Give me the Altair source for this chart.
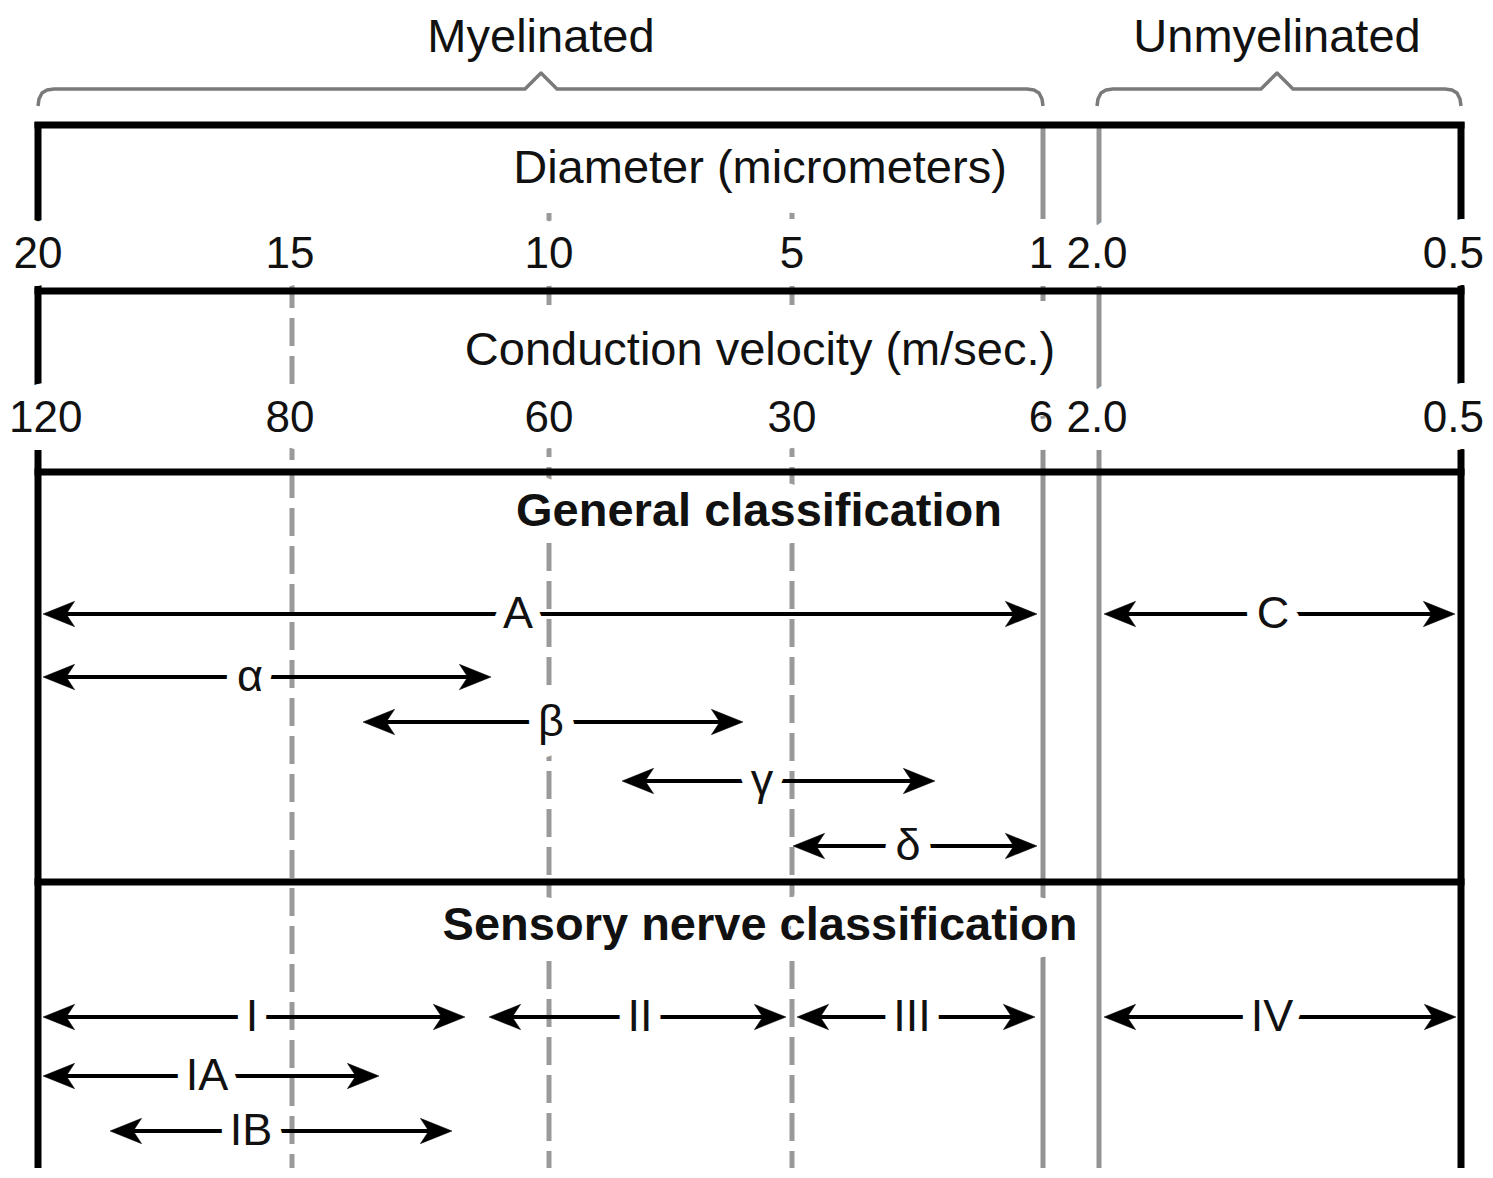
import altair as alt
import pandas as pd

# ---------------------------------------------------------------
# Diagram units
# ---------------------------------------------------------------
X_DOMAIN = [8, 1485]
Y_DOMAIN = [8, 1168]
W, H = 1477, 1160

groups = ["Myelinated", "Unmyelinated"]
group_start = [38, 1097]
group_end = [1043, 1461]
group_mid = [541, 1277]

tick_pos = [38, 290, 549, 792, 1041, 1097, 1461]
diam_labels = ["20", "15", "10", "5", "1", "2.0", "0.5"]
vel_labels = ["120", "80", "60", "30", "6", "2.0", "0.5"]

titles = ["Diameter (micrometers)", "Conduction velocity (m/sec.)",
          "General classification", "Sensory nerve classification"]
title_bold = [False, False, True, True]
title_x = [760, 760, 759, 760]
title_y = [183, 365, 526, 940]

section_edges = [125, 291, 472, 882]
frame_cols = [38, 1461]
frame_top, frame_bottom = 122, 1178

gen_labels = ["A", "C", "α", "β", "γ", "δ"]
gen_start = [43, 1104, 43, 363, 622, 793]
gen_end = [1037, 1455, 491, 743, 935, 1037]
gen_label_x = [518, 1273, 250, 551, 762, 908]
gen_y = [614, 614, 677, 722, 781, 846]

sens_labels = ["I", "II", "III", "IV", "IA", "IB"]
sens_start = [43, 489, 797, 1104, 43, 110]
sens_end = [465, 786, 1035, 1456, 379, 452]
sens_label_x = [252, 640, 912, 1272, 207, 251]
sens_y = [1017, 1017, 1017, 1017, 1076, 1131]

dashed_x = [292, 549, 792]
dashed_top = [280, 125, 125]
solid_x = [1043, 1099]

# ---------------------------------------------------------------
FONT = "Liberation Sans, Arial, sans-serif"
FS = 47          # titles
FS_TICK = 44     # tick numbers
FS_LAB = 45      # arrow labels
TXT = "#111111"

xs = alt.Scale(domain=X_DOMAIN, nice=False, zero=False)
ys = alt.Scale(domain=Y_DOMAIN, nice=False, zero=False, reverse=True)


def X(f):
    return alt.X(f, type="quantitative", scale=xs, axis=None)


def Y(f):
    return alt.Y(f, type="quantitative", scale=ys, axis=None)


# guide lines
dashed_df = pd.DataFrame({"x": dashed_x, "y": dashed_top, "y2": [frame_bottom] * len(dashed_x)})
solid_df = pd.DataFrame({"x": solid_x, "y": [frame_top] * len(solid_x), "y2": [frame_bottom] * len(solid_x)})
hframe_df = pd.DataFrame({"y": section_edges, "x": [frame_cols[0]] * 4, "x2": [frame_cols[1]] * 4})
vframe_df = pd.DataFrame({"x": frame_cols, "y": [frame_top] * 2, "y2": [frame_bottom] * 2})

dashed = alt.Chart(dashed_df).mark_rule(color="#9a9a9a", strokeWidth=5, strokeDash=[28, 10]).encode(
    x=X("x"), y=Y("y"), y2="y2")
solid = alt.Chart(solid_df).mark_rule(color="#939393", strokeWidth=5).encode(
    x=X("x"), y=Y("y"), y2="y2")
hframe = alt.Chart(hframe_df).mark_rule(color="black", strokeWidth=7, strokeCap="square").encode(
    y=Y("y"), x=X("x"), x2="x2")
vframe = alt.Chart(vframe_df).mark_rule(color="black", strokeWidth=7).encode(
    x=X("x"), y=Y("y"), y2="y2")

# braces built from the group spans
rows = []
for g, a, b, m in zip(groups, group_start, group_end, group_mid):
    pts = [(a, 106), (a + 1, 99), (a + 4, 93), (a + 9, 90), (a + 16, 89), (m - 16, 89), (m, 73),
           (m + 16, 89), (b - 16, 89), (b - 9, 90), (b - 4, 93), (b - 1, 99), (b, 106)]
    for i, (px, py) in enumerate(pts):
        rows.append({"group": g, "i": i, "x": px, "y": py})
brace_df = pd.DataFrame(rows)
braces = alt.Chart(brace_df).mark_line(color="#7a7a7a", strokeWidth=3.5, strokeJoin="round").encode(
    x=X("x"), y=Y("y"), detail="group:N", order="i:Q")

# arrows
arrow_df = pd.DataFrame({
    "label": gen_labels + sens_labels,
    "start": gen_start + sens_start,
    "end": gen_end + sens_end,
    "lx": gen_label_x + sens_label_x,
    "y": gen_y + sens_y,
})
shaft = alt.Chart(arrow_df).transform_calculate(
    s0="datum.start + 12", s1="datum.end - 12"
).mark_rule(color="black", strokeWidth=4).encode(x=X("s0"), x2="s1", y=Y("y"))

LEFT_HEAD = "M0,0L2,-0.8L1.47,0L2,0.8Z"
RIGHT_HEAD = "M0,0L-2,-0.8L-1.47,0L-2,0.8Z"
lhead = alt.Chart(arrow_df).mark_point(shape=LEFT_HEAD, size=1000, filled=True, fill="black",
                                       stroke="black", strokeWidth=0.5, opacity=1).encode(
    x=X("start"), y=Y("y"))
rhead = alt.Chart(arrow_df).mark_point(shape=RIGHT_HEAD, size=1000, filled=True, fill="black",
                                       stroke="black", strokeWidth=0.5, opacity=1).encode(
    x=X("end"), y=Y("y"))


# tick numbers: keep the outermost ones inside the drawing area
def est_width(s, fs):
    return sum(0.278 if c == "." else 0.556 for c in s) * fs


def clamp_x(x, s, fs):
    half = est_width(s, fs) / 2 + 1
    return min(max(x, X_DOMAIN[0] + half), X_DOMAIN[1] - half)


tick_text = diam_labels + vel_labels
tick_x = tick_pos + tick_pos
ticks_df = pd.DataFrame({
    "text": tick_text,
    "x": [clamp_x(x, s, FS_TICK) for x, s in zip(tick_x, tick_text)],
    "y": [268] * len(tick_pos) + [432] * len(tick_pos),
})
group_df = pd.DataFrame({"text": groups, "x": group_mid, "y": [52, 52]})
title_df = pd.DataFrame({"text": titles, "x": title_x, "y": title_y, "bold": title_bold})
plain_df = title_df[~title_df["bold"]][["text", "x", "y"]]
bold_df = title_df[title_df["bold"]][["text", "x", "y"]]
lab_df = arrow_df.rename(columns={"label": "text", "lx": "x"})[["text", "x", "y"]]


def text_layers(df, weight, baseline, fs, halo):
    base = alt.Chart(df).encode(x=X("x"), y=Y("y"), text="text:N")
    h = base.mark_text(font=FONT, fontSize=fs, fontWeight=weight, align="center", baseline=baseline,
                       fill="white", stroke="white", strokeWidth=halo, strokeJoin="round")
    t = base.mark_text(font=FONT, fontSize=fs, fontWeight=weight, align="center", baseline=baseline,
                       color=TXT)
    return h, t


group_h, group_t = text_layers(group_df, "normal", "alphabetic", FS, 20)
plain_h, plain_t = text_layers(plain_df, "normal", "alphabetic", FS, 60)
bold_h, bold_t = text_layers(bold_df, "bold", "alphabetic", FS, 36)
tick_h, tick_t = text_layers(ticks_df, "normal", "alphabetic", FS_TICK, 36)
lab_h, lab_t = text_layers(lab_df, "normal", "middle", FS_LAB, 24)

chart = alt.layer(
    dashed, solid, vframe, shaft,
    group_h, plain_h, bold_h, tick_h, lab_h,
    hframe, braces, lhead, rhead,
    group_t, plain_t, bold_t, tick_t, lab_t,
).properties(
    width=W, height=H, padding=0, background="white",
    autosize=alt.AutoSizeParams(type="none"),
).configure_view(stroke=None)

chart.save("out.html", embed_options={"renderer": "svg", "actions": False})
